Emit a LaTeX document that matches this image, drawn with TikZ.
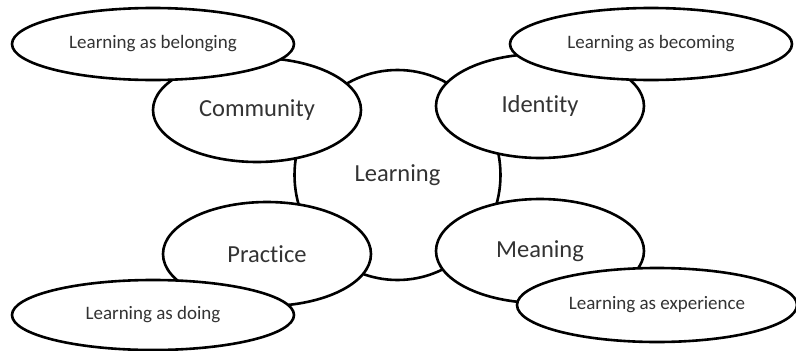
\documentclass[tikz,border=0pt]{standalone}
\usepackage{fontspec}
\setmainfont[Ligatures=NoCommon]{Carlito}
\usetikzlibrary{shapes.geometric}
\tikzset{
	bubble/.style={ellipse,draw=black,fill=white,line width=2.6pt,inner sep=0pt,text=black!80,font=\fontsize{24.5}{28}\selectfont},
	mid/.style={bubble,minimum width=208pt,minimum height=104pt},
	outer/.style={bubble,minimum width=282pt,minimum height=72pt,font=\fontsize{19}{22}\selectfont}
}
\begin{document}
\begin{tikzpicture}[x=1pt,y=-1pt]
	\useasboundingbox (0,0) rectangle (796,351);
	% centre
	\node[bubble,minimum width=206pt,minimum height=210pt] (learn) at (397.5,175) {Learning};
	% four sides
	\node[mid] (comm) at (257,110) {Community};
	\node[mid] (iden) at (540,106) {Identity};
	\node[mid] (prac) at (267,254) {Practice};
	\node[mid] (mean) at (540,251) {Meaning};
	% outer labels
	\node[outer] (belong) at (153,44) {Learning as belonging};
	\node[outer] (become) at (651,44) {Learning as becoming};
	\node[outer,minimum height=70pt] (doing) at (153,315) {Learning as doing};
	\node[outer,minimum width=280pt,minimum height=74pt] (exper) at (657,305) {Learning as experience};
\end{tikzpicture}
\end{document}
